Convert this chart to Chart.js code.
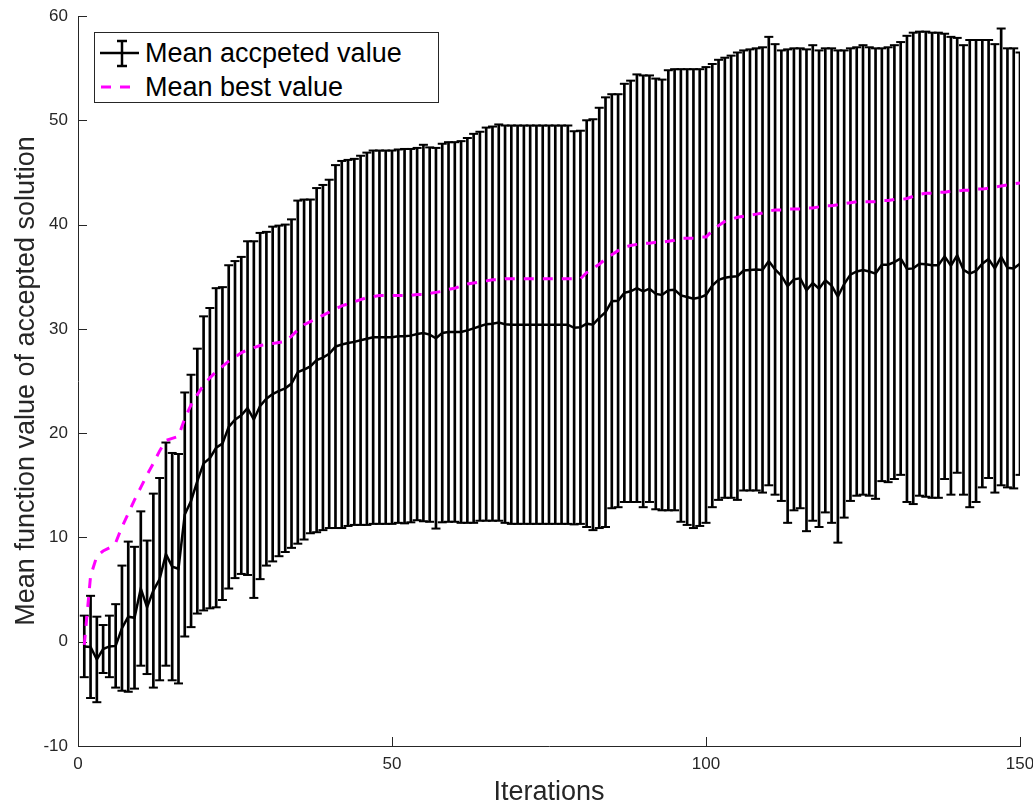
<!DOCTYPE html>
<html>
<head>
<meta charset="utf-8">
<title>Mean accepted value</title>
<script src="https://cdn.jsdelivr.net/npm/chart.js@4.4.1/dist/chart.umd.min.js"></script>
<style>
  html, body { margin: 0; padding: 0; background: #fff; }
  #wrap { position: relative; width: 1033px; height: 806px; }
  #legend {
    position: absolute; left: 94px; top: 32px; width: 345px; height: 71px;
    box-sizing: border-box; border: 1px solid #262626; background: #fff;
    font-family: "Liberation Sans", Arial, sans-serif; font-size: 27px; color: #000;
  }
  #legend .item { position: absolute; left: 0; height: 34px; width: 100%; }
  #legend svg { position: absolute; left: 4px; top: 0; }
  #legend span { position: absolute; left: 50px; top: 1px; line-height: 32px; white-space: nowrap; }
</style>
</head>
<body>
<div id="wrap">
  <canvas id="errChart" width="1033" height="806"></canvas>
  <div id="legend">
    <div class="item" style="top:3px">
      <svg width="44" height="34">
        <line x1="1" y1="17" x2="40" y2="17" stroke="#000" stroke-width="2.5"/>
        <line x1="23" y1="5" x2="23" y2="30" stroke="#000" stroke-width="2.5"/>
        <line x1="18" y1="5" x2="28" y2="5" stroke="#000" stroke-width="2.5"/>
        <line x1="18" y1="30" x2="28" y2="30" stroke="#000" stroke-width="2.5"/>
      </svg>
      <span>Mean accpeted value</span>
    </div>
    <div class="item" style="top:37px">
      <svg width="44" height="34">
        <line x1="2" y1="17" x2="40" y2="17" stroke="#ff00ff" stroke-width="3" stroke-dasharray="10,9"/>
      </svg>
      <span>Mean best value</span>
    </div>
  </div>
</div>
<script>
// Mean of accepted solutions per iteration (1..150)
const meanAccepted = [
  -0.45, -0.5, -1.7, -0.7, -0.45, -0.4, 1.3, 2.4, 2.3, 5.1,
  3.3, 4.9, 6.0, 8.4, 7.2, 7.0, 12.2, 13.5, 15.4, 17.1,
  17.6, 18.6, 19.0, 20.6, 21.3, 21.7, 22.4, 21.3, 22.6, 23.3,
  23.75, 24.05, 24.3, 24.75, 25.85, 26.1, 26.4, 27.0, 27.25, 27.6,
  28.3, 28.5, 28.65, 28.75, 28.9, 29.05, 29.2, 29.2, 29.2, 29.2,
  29.3, 29.3, 29.35, 29.5, 29.6, 29.45, 29.1, 29.6, 29.7, 29.7,
  29.7, 29.85, 30.05, 30.25, 30.45, 30.5, 30.6, 30.45, 30.4, 30.4,
  30.4, 30.4, 30.4, 30.4, 30.4, 30.4, 30.4, 30.4, 30.1, 30.15,
  30.5, 30.4, 31.05, 31.6, 32.65, 32.7, 33.45, 33.6, 33.9, 33.6,
  33.85, 33.35, 33.25, 33.7, 33.75, 33.2, 33.05, 32.9, 33.0, 33.25,
  34.15, 34.7, 34.9, 35.0, 35.05, 35.6, 35.65, 35.7, 35.65, 36.5,
  35.7, 35.1, 34.1, 34.75, 34.85, 33.7, 34.4, 33.85, 34.65, 34.15,
  33.1, 34.3, 35.2, 35.5, 35.65, 35.5, 35.3, 36.15, 36.15, 36.4,
  36.75, 35.75, 35.8, 36.25, 36.2, 36.1, 36.1, 36.95, 36.05, 37.05,
  35.65, 35.3, 35.55, 36.25, 36.7, 35.8, 36.9, 35.85, 35.8, 36.25
];

// Half-length of each error bar
const errAccepted = [
  2.95, 4.9, 4.1, 2.3, 2.95, 4.0, 6.0, 7.2, 6.8, 7.4,
  6.4, 9.3, 9.7, 10.7, 10.9, 11.0, 11.7, 12.1, 12.7, 14.1,
  14.4, 15.3, 15.0, 15.5, 15.2, 15.2, 16.0, 17.1, 16.6, 16.0,
  16.05, 15.85, 15.7, 15.75, 16.45, 16.3, 16.0, 16.5, 16.55, 16.7,
  17.4, 17.6, 17.55, 17.55, 17.7, 17.85, 17.9, 17.9, 17.9, 17.9,
  17.9, 17.95, 17.9, 17.85, 18.05, 17.95, 18.25, 18.15, 18.2, 18.2,
  18.3, 18.45, 18.65, 18.65, 18.85, 18.9, 19.0, 19.05, 19.1, 19.1,
  19.1, 19.1, 19.1, 19.1, 19.1, 19.1, 19.1, 19.1, 18.85, 18.85,
  19.5, 19.7, 20.15, 20.6, 19.85, 19.8, 20.05, 20.2, 20.5, 20.7,
  20.45, 20.65, 20.65, 21.1, 21.15, 21.7, 21.85, 22.0, 21.9, 21.85,
  21.25, 21.1, 21.1, 21.2, 21.45, 21.1, 21.15, 21.2, 21.35, 21.5,
  21.6, 21.6, 22.7, 22.15, 22.05, 23.1, 22.8, 22.85, 22.25, 22.75,
  23.6, 22.4, 21.7, 21.5, 21.55, 21.5, 21.6, 20.75, 20.85, 20.8,
  20.75, 22.35, 22.6, 22.25, 22.3, 22.3, 22.3, 21.35, 21.95, 20.85,
  21.55, 22.4, 22.15, 21.45, 21.0, 21.5, 21.9, 21.05, 21.1, 20.25
];

// Mean best value found so far
const meanBest = [
  -0.3, 6.3, 8.2, 8.7, 9.0, 9.5, 11.0, 12.3, 13.6, 14.8,
  16.0, 17.1, 18.3, 19.3, 19.5, 19.7, 21.4, 22.7, 23.7, 24.6,
  25.3, 25.9, 26.4, 26.9, 27.3, 27.7, 28.0, 28.2, 28.4, 28.5,
  28.6, 28.7, 28.8, 29.3, 29.9, 30.4, 30.7, 31.0, 31.3, 31.6,
  31.9, 32.2, 32.4, 32.6, 32.8, 33.0, 33.1, 33.2, 33.2, 33.2,
  33.2, 33.2, 33.2, 33.3, 33.3, 33.4, 33.5, 33.6, 33.8, 33.9,
  34.1, 34.3, 34.4, 34.5, 34.6, 34.7, 34.7, 34.8, 34.8, 34.8,
  34.8, 34.8, 34.8, 34.8, 34.8, 34.8, 34.8, 34.8, 34.8, 34.8,
  35.4, 35.8, 36.2, 36.7, 37.1, 37.5, 37.8, 38.0, 38.1, 38.2,
  38.2, 38.3, 38.3, 38.4, 38.5, 38.7, 38.7, 38.7, 38.8, 38.8,
  39.4, 39.9, 40.3, 40.5, 40.7, 40.8, 40.9, 41.0, 41.1, 41.3,
  41.4, 41.4, 41.5, 41.5, 41.5, 41.6, 41.6, 41.7, 41.8, 41.8,
  41.9, 42.0, 42.1, 42.2, 42.2, 42.2, 42.2, 42.3, 42.3, 42.4,
  42.4, 42.5, 42.7, 42.9, 43.0, 43.0, 43.1, 43.1, 43.2, 43.2,
  43.3, 43.3, 43.4, 43.4, 43.5, 43.6, 43.7, 43.8, 43.9, 44.0
];

// Axis ticks
const xTickValues = [0, 50, 100, 150];
const yTickValues = [-10, 0, 10, 20, 30, 40, 50, 60];

const AXIS_COLOR = '#262626';
const FONT = '"Liberation Sans", Arial, sans-serif';

const iterations = meanAccepted.map((_, k) => k + 1);
const errorSpans = iterations.map((x, k) => ({ x, y: [meanAccepted[k] - errAccepted[k], meanAccepted[k] + errAccepted[k]] }));
const upperCaps = iterations.map((x, k) => ({ x, y: meanAccepted[k] + errAccepted[k] }));
const lowerCaps = iterations.map((x, k) => ({ x, y: meanAccepted[k] - errAccepted[k] }));

/**
 * Short tick marks pointing into the plot (MATLAB style)
 */
const inwardTicks = {
  id: 'inwardTicks',
  beforeDatasetsDraw(chart) {
    const { ctx, chartArea, scales } = chart;
    ctx.save();
    ctx.strokeStyle = AXIS_COLOR;
    ctx.lineWidth = 1;
    ctx.beginPath();
    xTickValues.forEach(v => {
      const px = Math.round(scales.x.getPixelForValue(v)) + 0.5;
      ctx.moveTo(px, chartArea.bottom);
      ctx.lineTo(px, chartArea.bottom - 9);
    });
    yTickValues.forEach(v => {
      const py = Math.round(scales.y.getPixelForValue(v)) + 0.5;
      ctx.moveTo(chartArea.left, py);
      ctx.lineTo(chartArea.left + 9, py);
    });
    ctx.stroke();
    ctx.restore();
  }
};

const ctx = document.getElementById('errChart').getContext('2d');

new Chart(ctx, {
  type: 'scatter',
  data: {
    datasets: [
      {
        type: 'bar',
        data: errorSpans,
        backgroundColor: '#000',
        borderWidth: 0,
        barThickness: 2,
        order: 4
      },
      {
        type: 'line',
        data: upperCaps,
        showLine: false,
        pointStyle: 'line',
        pointRadius: 4.5,
        pointBorderWidth: 2,
        pointBorderColor: '#000',
        order: 3
      },
      {
        type: 'line',
        data: lowerCaps,
        showLine: false,
        pointStyle: 'line',
        pointRadius: 4.5,
        pointBorderWidth: 2,
        pointBorderColor: '#000',
        order: 3
      },
      {
        type: 'line',
        data: iterations.map((x, k) => ({ x, y: meanAccepted[k] })),
        borderColor: '#000',
        borderWidth: 2.5,
        pointRadius: 0,
        tension: 0,
        order: 2
      },
      {
        type: 'line',
        data: iterations.map((x, k) => ({ x, y: meanBest[k] })),
        borderColor: '#ff00ff',
        borderWidth: 3,
        borderDash: [10, 9],
        pointRadius: 0,
        tension: 0,
        order: 1
      }
    ]
  },
  options: {
    responsive: false,
    animation: false,
    layout: { padding: { top: 16, right: 0, left: 0, bottom: 0 } },
    plugins: {
      legend: { display: false },
      tooltip: { enabled: false }
    },
    scales: {
      x: {
        type: 'linear',
        min: 0,
        max: 150,
        offset: false,
        afterBuildTicks: s => { s.ticks = xTickValues.map(v => ({ value: v })); },
        afterFit: s => { s.height = 60; s.paddingLeft = 0; s.paddingRight = 13; },
        ticks: { color: AXIS_COLOR, font: { family: FONT, size: 17 }, padding: 8, maxRotation: 0, autoSkip: false },
        grid: { drawOnChartArea: false, drawTicks: false, offset: false },
        border: { color: AXIS_COLOR, width: 1 },
        title: {
          display: true,
          text: 'Iterations',
          color: AXIS_COLOR,
          font: { family: FONT, size: 27, lineHeight: 1.0 },
          padding: { top: 0, bottom: 0 }
        }
      },
      y: {
        type: 'linear',
        min: -10,
        max: 60,
        afterBuildTicks: s => { s.ticks = yTickValues.map(v => ({ value: v })); },
        afterFit: s => { s.width = 78; s.paddingTop = 0; s.paddingBottom = 0; },
        ticks: { color: AXIS_COLOR, font: { family: FONT, size: 17 }, padding: 10 },
        grid: { drawOnChartArea: false, drawTicks: false },
        border: { color: AXIS_COLOR, width: 1 },
        title: {
          display: true,
          text: 'Mean function value of accepted solution',
          color: AXIS_COLOR,
          font: { family: FONT, size: 27, lineHeight: 1.0 },
          padding: { top: 13, bottom: 0 }
        }
      }
    }
  },
  plugins: [inwardTicks]
});
</script>
</body>
</html>
